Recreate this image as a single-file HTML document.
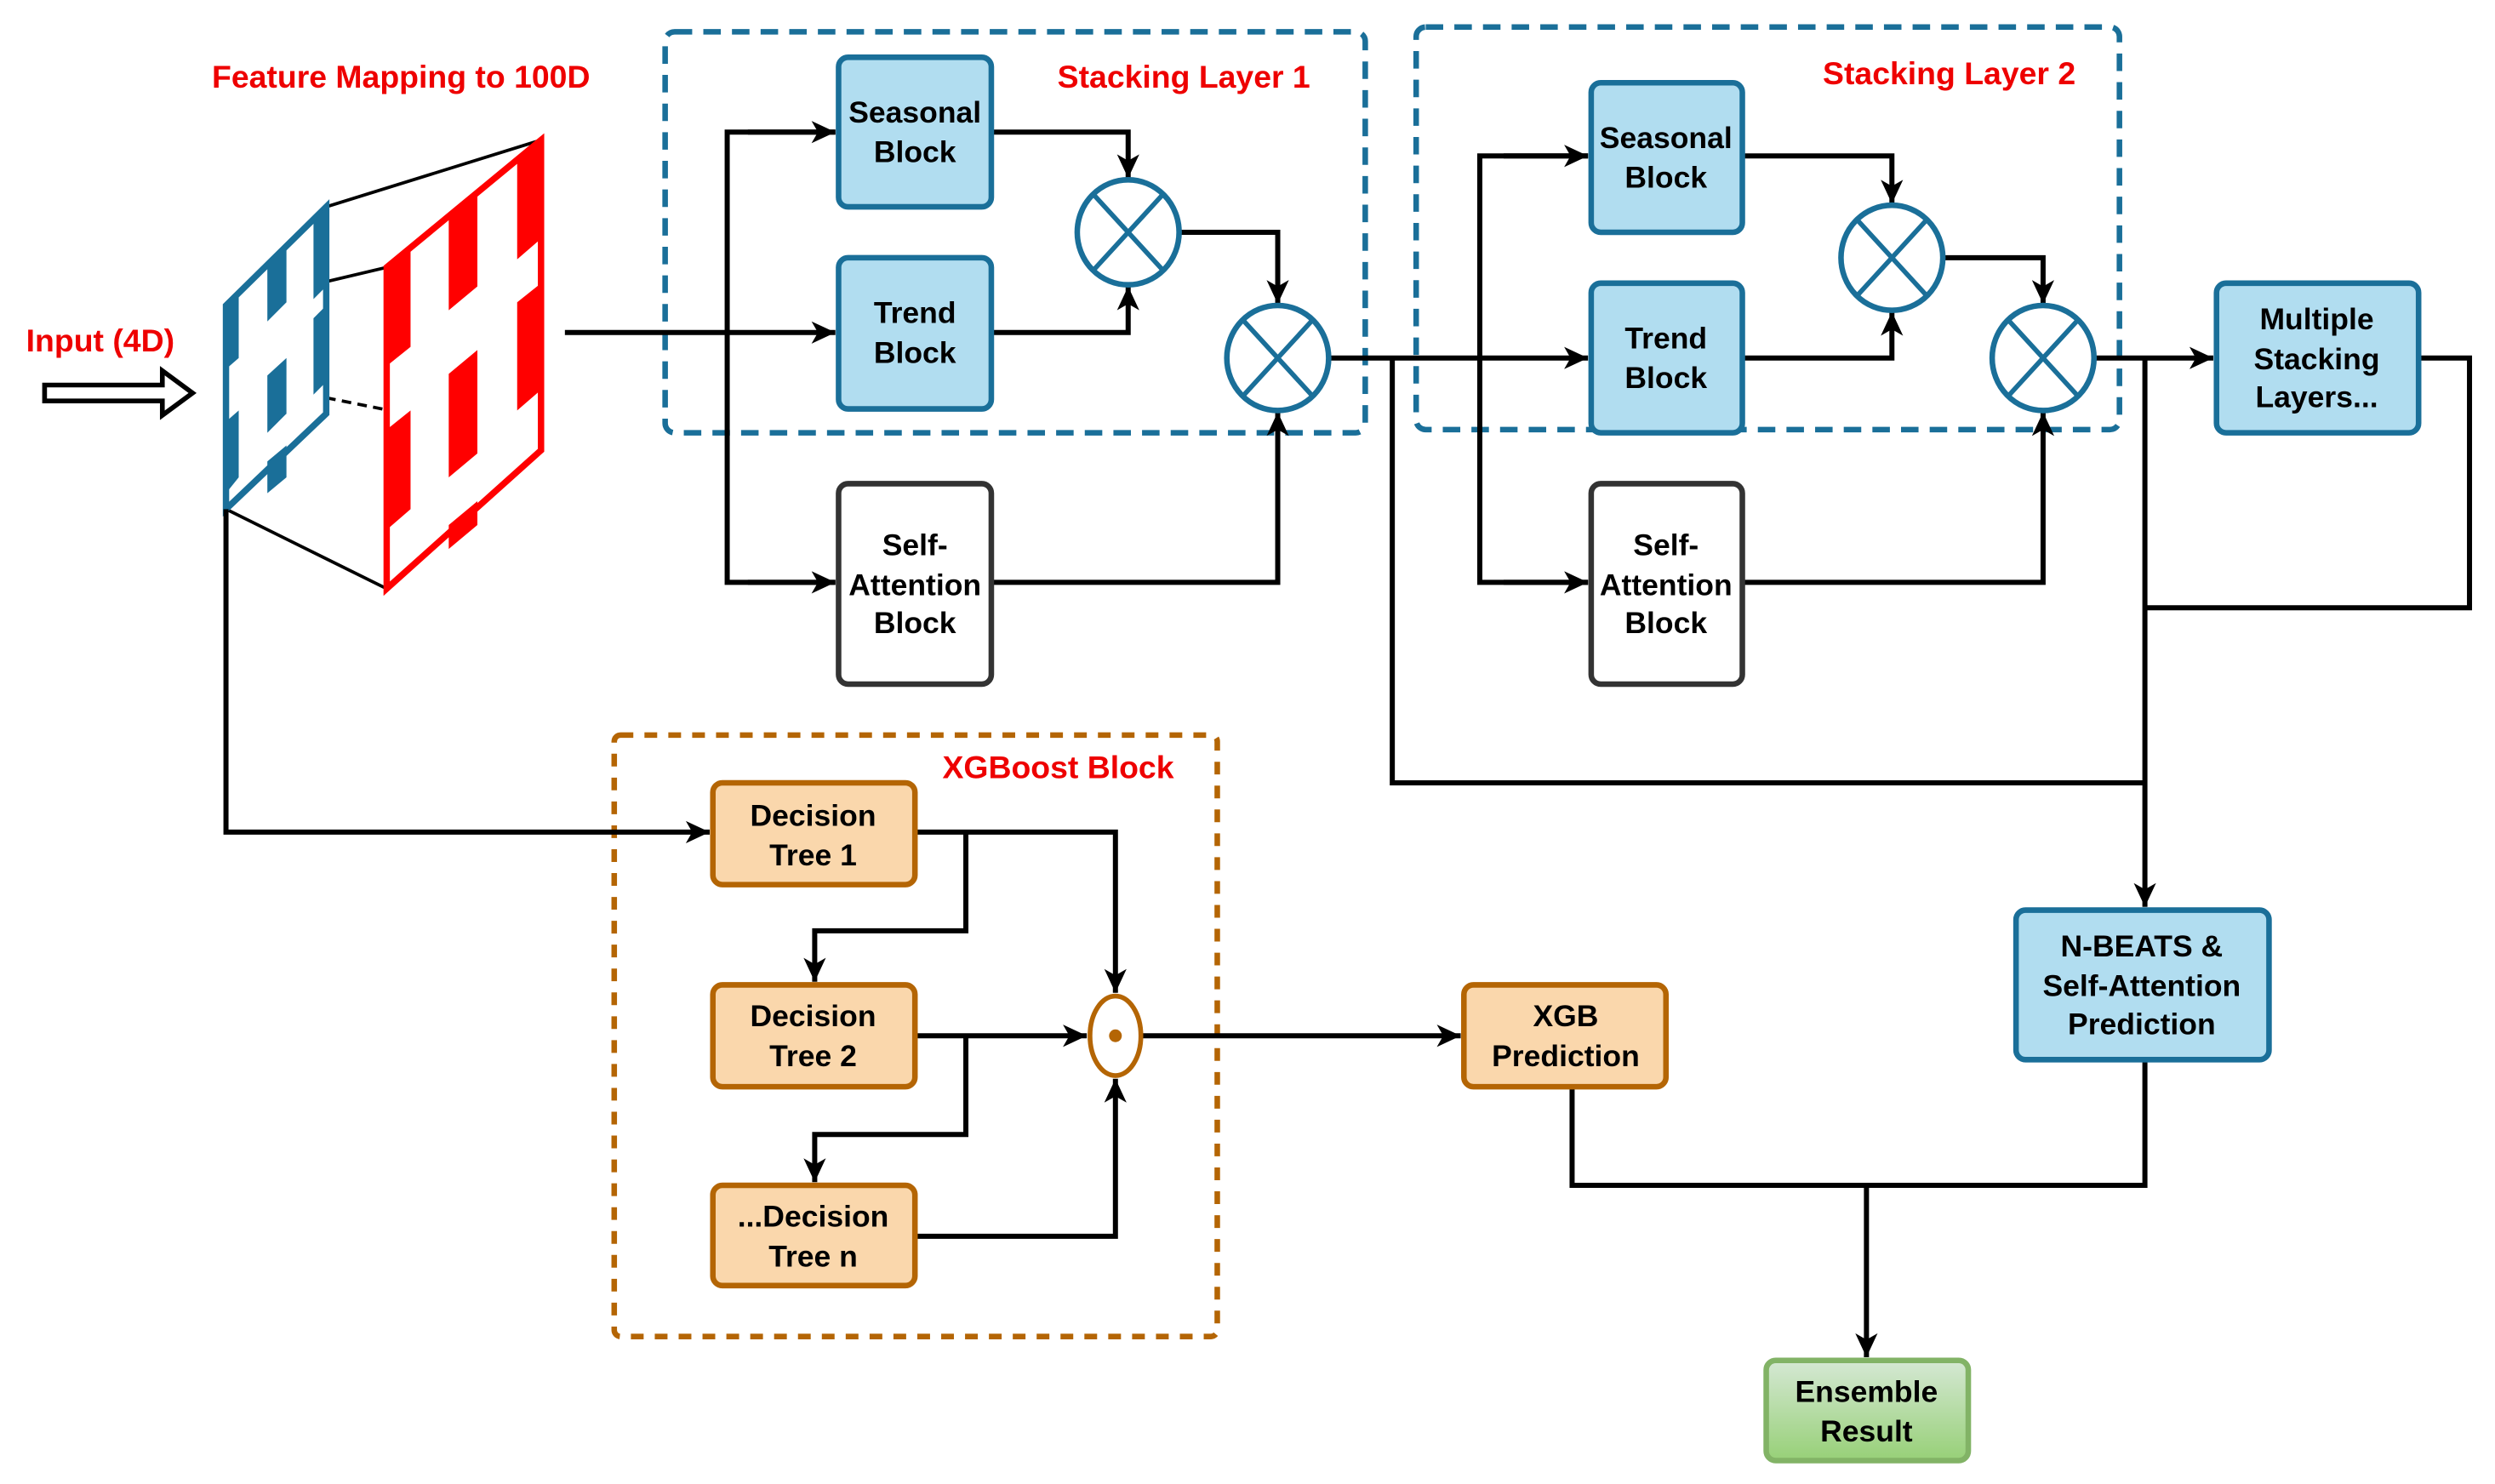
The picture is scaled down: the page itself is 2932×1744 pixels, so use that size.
<!DOCTYPE html>
<html><head><meta charset="utf-8"><style>html,body{margin:0;padding:0;background:#fff}svg{display:block}</style></head>
<body>
<svg width="2932" height="1744" viewBox="0 0 1568 932.7" xmlns="http://www.w3.org/2000/svg" font-family="Liberation Sans, sans-serif" font-weight="bold">
<defs>
<marker id="a" markerWidth="16" markerHeight="16" refX="15" refY="7" orient="auto" markerUnits="userSpaceOnUse"><path d="M0,0 L15,7 L0,14 L4,7 z" fill="#000"/></marker>
<linearGradient id="g" x1="0" y1="0" x2="0" y2="1"><stop offset="0" stop-color="#d5e8d4"/><stop offset="1" stop-color="#97d077"/></linearGradient>
</defs>
<rect width="1568" height="933" fill="#fff"/>
<g fill="none" stroke-linejoin="round">
<rect x="418" y="20" width="440" height="252" rx="6" stroke="#1a6f99" stroke-width="3.5" stroke-dasharray="11,7"/>
<rect x="890" y="17" width="442" height="253" rx="6" stroke="#1a6f99" stroke-width="3.5" stroke-dasharray="11,7"/>
<rect x="386" y="462" width="379" height="378" rx="4" stroke="#b46504" stroke-width="3.5" stroke-dasharray="8,7"/>
</g>
<g fill="#e00" font-size="20">
<text x="252" y="55" text-anchor="middle">Feature Mapping to 100D</text>
<text x="63" y="221" text-anchor="middle">Input (4D)</text>
<text x="744" y="55" text-anchor="middle">Stacking Layer 1</text>
<text x="1225" y="53" text-anchor="middle">Stacking Layer 2</text>
<text x="665" y="489" text-anchor="middle">XGBoost Block</text>
</g>
<path d="M28,242 L102,242 L102,233 L121,247 L102,261 L102,252 L28,252 Z" fill="#fff" stroke="#000" stroke-width="3"/>
<g stroke="#000" stroke-width="2">
<line x1="205" y1="130" x2="340" y2="88"/><line x1="142" y1="192" x2="243" y2="168"/><line x1="142" y1="320" x2="243" y2="370"/>
<line x1="205" y1="250" x2="320" y2="273" stroke-dasharray="6,4"/>
</g>
<polygon points="142,192 205,130 205,260 142,320" fill="#fff" stroke="#1a6f99" stroke-width="4"/>
<g fill="#1a6f99"><polygon points="142,192 150,184 150,225 142,232"/><polygon points="168,168 180,156 180,190 168,202"/><polygon points="197,140 205,130 205,180 197,188"/><polygon points="142,265 150,258 150,300 142,310"/><polygon points="168,236 180,225 180,260 168,272"/><polygon points="197,200 205,192 205,240 197,248"/><polygon points="168,290 180,280 180,300 168,310"/></g>
<polygon points="243,168 340,88 340,283 243,370" fill="#fff" stroke="#f00" stroke-width="4"/>
<g fill="#f00"><polygon points="243,168 258,156 258,218 243,230"/><polygon points="282,137 300,122 300,180 282,195"/><polygon points="325,100 340,88 340,150 325,163"/><polygon points="243,270 258,258 258,320 243,333"/><polygon points="282,235 300,220 300,285 282,300"/><polygon points="325,190 340,178 340,245 325,258"/><polygon points="282,330 300,315 300,330 282,345"/></g>
<g fill="none" stroke="#000" stroke-width="3.2">
<path d="M355,209 H525" marker-end="url(#a)"/>
<path d="M525,83 H457 V366 H525" /><path d="M470,83 H525" marker-end="url(#a)"/><path d="M470,366 H525" marker-end="url(#a)"/>
<path d="M623,83 H709 V112" marker-end="url(#a)"/>
<path d="M623,209 H709 V180" marker-end="url(#a)"/>
<path d="M741,146 H803 V191" marker-end="url(#a)"/>
<path d="M623,366 H803 V259" marker-end="url(#a)"/>
<path d="M835,225 H998" marker-end="url(#a)"/>
<path d="M998,98 H930 V366 H998"/><path d="M945,98 H998" marker-end="url(#a)"/><path d="M945,366 H998" marker-end="url(#a)"/>
<path d="M875,225 V492 H1348"/>
<path d="M1095,98 H1189 V128" marker-end="url(#a)"/>
<path d="M1095,225 H1189 V196" marker-end="url(#a)"/>
<path d="M1221,162 H1284 V191" marker-end="url(#a)"/>
<path d="M1095,366 H1284 V259" marker-end="url(#a)"/>
<path d="M1316,225 H1391" marker-end="url(#a)"/>
<path d="M1520,225 H1552 V382 H1348"/>
<path d="M1348,225 V570" marker-end="url(#a)"/>
<path d="M142,320 V523 H446" marker-end="url(#a)"/>
<path d="M575,523 H701 V624" marker-end="url(#a)"/>
<path d="M607,523 V585 H512 V617" marker-end="url(#a)"/>
<path d="M575,651 H683" marker-end="url(#a)"/>
<path d="M607,651 V713 H512 V743" marker-end="url(#a)"/>
<path d="M575,777 H701 V678" marker-end="url(#a)"/>
<path d="M717,651 H918" marker-end="url(#a)"/>
<path d="M988,683 V745 H1348 V666"/>
<path d="M1173,745 V853" marker-end="url(#a)"/>
</g>
<g fill="#fff" stroke="#1a6f99" stroke-width="3.5">
<ellipse cx="709" cy="146" rx="32" ry="33"/><ellipse cx="803" cy="225" rx="32" ry="33"/>
<ellipse cx="1189" cy="162" rx="32" ry="33"/><ellipse cx="1284" cy="225" rx="32" ry="33"/>
<path d="M687,122 L731,170 M731,122 L687,170 M781,201 L825,249 M825,201 L781,249 M1167,138 L1211,186 M1211,138 L1167,186 M1262,201 L1306,249 M1306,201 L1262,249" fill="none" stroke-width="3"/>
</g>
<ellipse cx="701" cy="651" rx="16" ry="25" fill="#fff" stroke="#b46504" stroke-width="3"/>
<circle cx="701" cy="651" r="4" fill="#b46504"/>
<g stroke-width="3.5">
<rect x="527" y="36" width="96" height="94" rx="6" fill="#b1ddf0" stroke="#1a6f99"/>
<rect x="527" y="162" width="96" height="95" rx="6" fill="#b1ddf0" stroke="#1a6f99"/>
<rect x="527" y="304" width="96" height="126" rx="6" fill="#fff" stroke="#333"/>
<rect x="1000" y="52" width="95" height="94" rx="6" fill="#b1ddf0" stroke="#1a6f99"/>
<rect x="1000" y="178" width="95" height="94" rx="6" fill="#b1ddf0" stroke="#1a6f99"/>
<rect x="1000" y="304" width="95" height="126" rx="6" fill="#fff" stroke="#333"/>
<rect x="1393" y="178" width="127" height="94" rx="6" fill="#b1ddf0" stroke="#1a6f99"/>
<rect x="1267" y="572" width="159" height="94" rx="6" fill="#b1ddf0" stroke="#1a6f99"/>
<rect x="448" y="492" width="127" height="64" rx="6" fill="#fad7ac" stroke="#b46504"/>
<rect x="448" y="619" width="127" height="64" rx="6" fill="#fad7ac" stroke="#b46504"/>
<rect x="448" y="745" width="127" height="63" rx="6" fill="#fad7ac" stroke="#b46504"/>
<rect x="920" y="619" width="127" height="64" rx="6" fill="#fad7ac" stroke="#b46504"/>
<rect x="1110" y="855" width="127" height="63" rx="6" fill="url(#g)" stroke="#82b366"/>
</g>
<g font-size="19" text-anchor="middle" fill="#000">
<text x="575" y="77">Seasonal</text><text x="575" y="102">Block</text>
<text x="575" y="203">Trend</text><text x="575" y="228">Block</text>
<text x="575" y="349">Self-</text><text x="575" y="374">Attention</text><text x="575" y="398">Block</text>
<text x="1047" y="93">Seasonal</text><text x="1047" y="118">Block</text>
<text x="1047" y="219">Trend</text><text x="1047" y="244">Block</text>
<text x="1047" y="349">Self-</text><text x="1047" y="374">Attention</text><text x="1047" y="398">Block</text>
<text x="1456" y="207">Multiple</text><text x="1456" y="232">Stacking</text><text x="1456" y="256">Layers...</text>
<text x="1346" y="601">N-BEATS &amp;</text><text x="1346" y="626">Self-Attention</text><text x="1346" y="650">Prediction</text>
<text x="511" y="519">Decision</text><text x="511" y="544">Tree 1</text>
<text x="511" y="645">Decision</text><text x="511" y="670">Tree 2</text>
<text x="511" y="771">...Decision</text><text x="511" y="796">Tree n</text>
<text x="984" y="645">XGB</text><text x="984" y="670">Prediction</text>
<text x="1173" y="881">Ensemble</text><text x="1173" y="906">Result</text>
</g>
</svg>
</body></html>
